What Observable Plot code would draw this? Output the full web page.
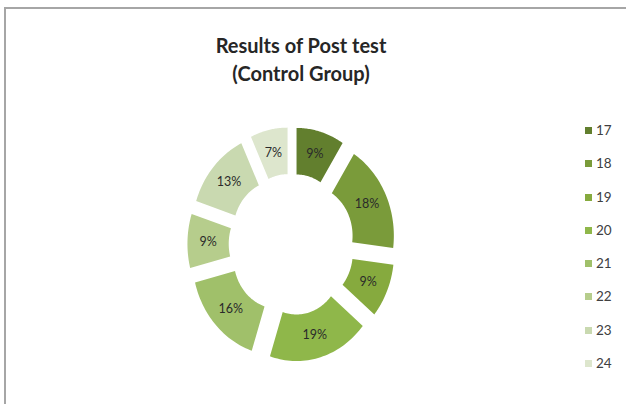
<!DOCTYPE html>
<html>
<head>
<meta charset="utf-8">
<script src="https://cdn.jsdelivr.net/npm/d3@7"></script>
<script src="https://cdn.jsdelivr.net/npm/@observablehq/plot@0.6"></script>
<style>
  html, body { margin: 0; padding: 0; background: #fff; }
  #wrap { position: relative; width: 626px; height: 404px; overflow: hidden; font-family: Lato, "Open Sans", sans-serif; }
  #frame { position: absolute; left: 4px; top: 7px; width: 640px; height: 420px; border-top: 2px solid #a6a6a6; border-left: 2px solid #a6a6a6; box-sizing: border-box; }
  #title { position: absolute; left: 161px; width: 280px; top: 31px; text-align: center; font-weight: bold; font-size: 20px; line-height: 28px; color: #262626; }
  #legend { position: absolute; left: 585px; top: 122px; }
  .item { height: 33.3px; display: flex; align-items: flex-start; font-size: 13.5px; color: #404040; }
  .sw { width: 7px; height: 7px; margin-top: 5px; margin-right: 4px; }
  #chart { position: absolute; left: 0; top: 0; }
</style>
</head>
<body>
<div id="wrap">
  <div id="frame"></div>
  <div id="chart"></div>
  <div id="title">Results of Post test<br>(Control Group)</div>
  <div id="legend"></div>
</div>
<script>
const categories = ["17", "18", "19", "20", "21", "22", "23", "24"];
const percents = [9, 18, 9, 19, 16, 9, 13, 7];
const colors = ["#627f2e", "#7a9b3a", "#86aa3e", "#8fb74a", "#a0c06a", "#b6cd8c", "#c9d9b0", "#dde6cd"];

// geometry (in radius units)
const outerR = 1, innerR = 0.52, explode = 0.21;
const cx = 291, cy = 244, pxX = 86, pxY = 97;

const total = d3.sum(percents);
const pie = d3.pie().sort(null).value(d => d)(percents);

const polys = [];
const labels = [];
pie.forEach((p, i) => {
  const a0 = p.startAngle, a1 = p.endAngle, mid = (a0 + a1) / 2;
  const ox = explode * Math.sin(mid), oy = explode * Math.cos(mid);
  const n = 40;
  for (let k = 0; k <= n; k++) {
    const a = a0 + (a1 - a0) * k / n;
    polys.push({cat: categories[i], x: ox + outerR * Math.sin(a), y: oy + outerR * Math.cos(a)});
  }
  for (let k = n; k >= 0; k--) {
    const a = a0 + (a1 - a0) * k / n;
    polys.push({cat: categories[i], x: ox + innerR * Math.sin(a), y: oy + innerR * Math.cos(a)});
  }
  const rm = (outerR + innerR) / 2;
  labels.push({cat: categories[i], x: ox + rm * Math.sin(mid), y: oy + rm * Math.cos(mid), text: Math.round(percents[i] / total * 100) + "%"});
});

const W = 626, H = 404;
const chart = Plot.plot({
  width: W, height: H,
  margin: 0,
  x: {domain: [-cx / pxX, (W - cx) / pxX], range: [0, W], axis: null},
  y: {domain: [-(H - cy) / pxY, cy / pxY], range: [H, 0], axis: null},
  color: {domain: categories, range: colors},
  style: {background: "transparent", fontFamily: "Lato, 'Open Sans', sans-serif"},
  marks: [
    Plot.line(polys, {x: "x", y: "y", z: "cat", fill: "cat", stroke: null, curve: "linear-closed"}),
    Plot.text(labels, {x: "x", y: "y", text: "text", fill: "#2a2a2a", fontSize: 12.5})
  ]
});
document.getElementById("chart").appendChild(chart);

const color = chart.scale("color");
const leg = d3.select("#legend");
categories.forEach((c, i) => {
  const it = leg.append("div").attr("class", "item");
  it.append("div").attr("class", "sw").style("background", colors[color.domain.indexOf(c)]);
  it.append("div").text(c);
});
</script>
</body>
</html>
